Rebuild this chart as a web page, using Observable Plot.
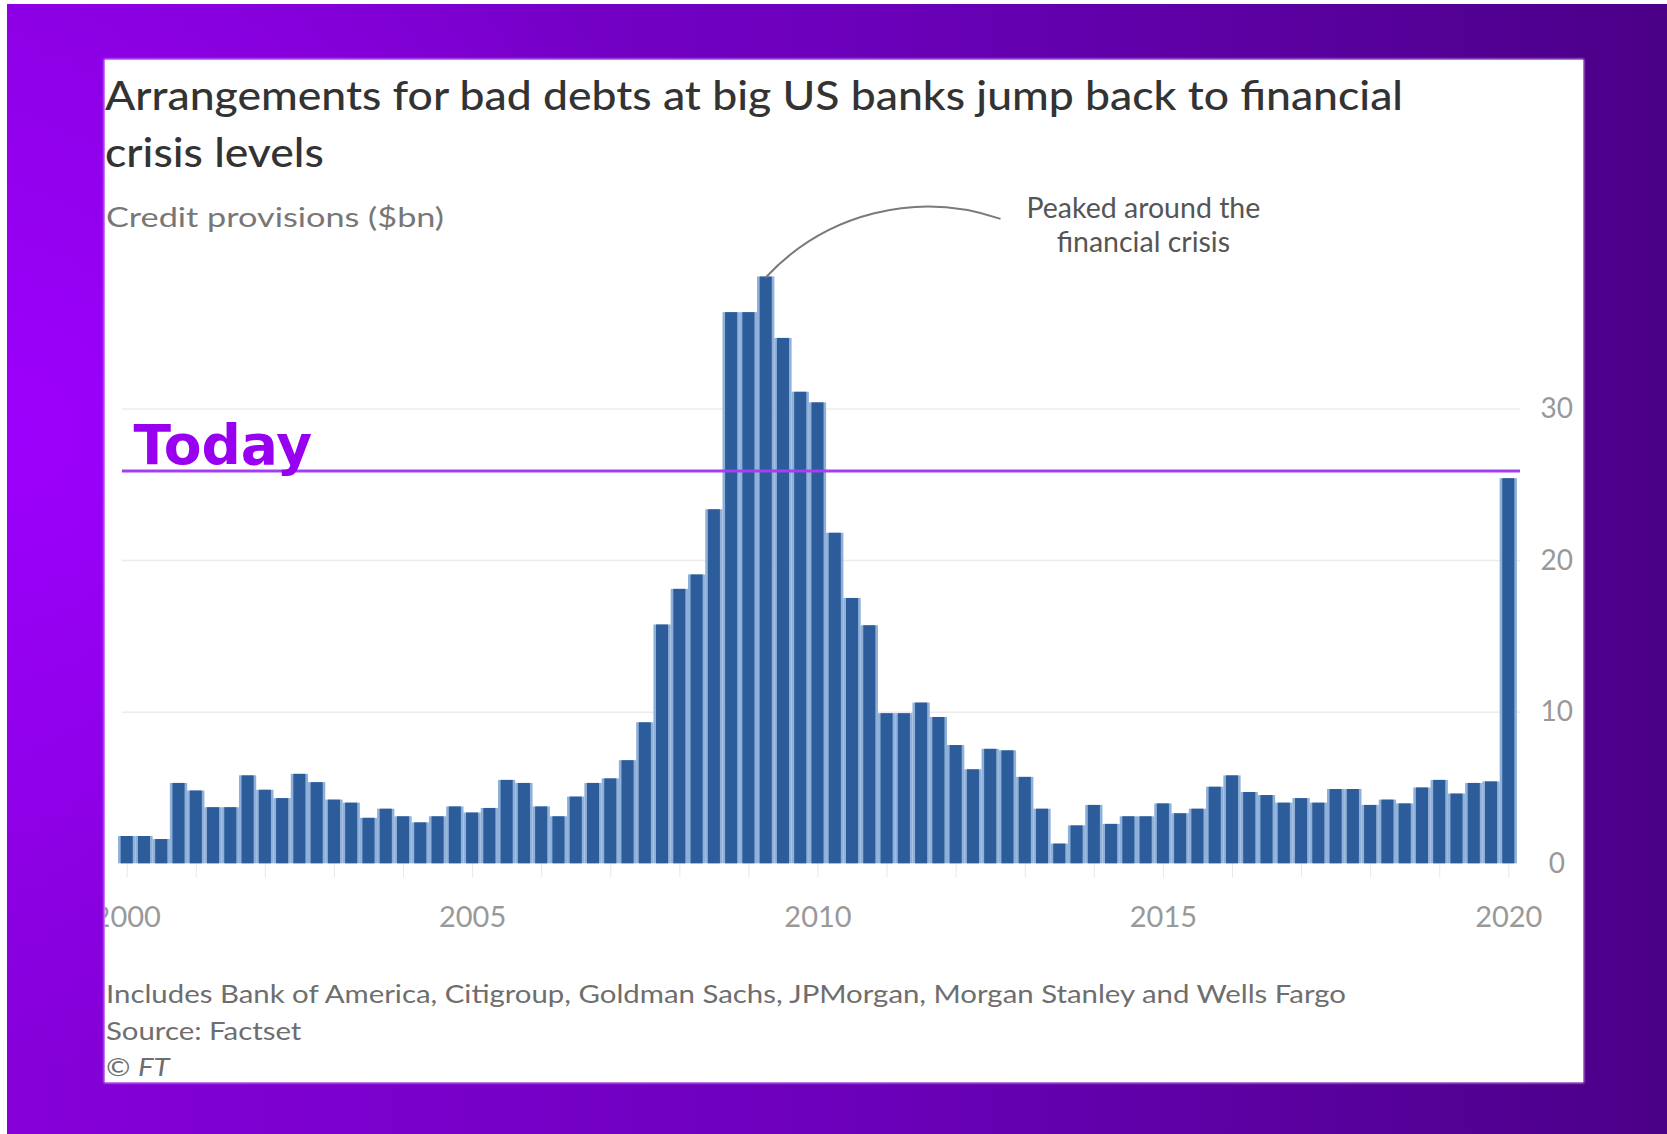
<!DOCTYPE html>
<html><head><meta charset="utf-8">
<script src="https://cdn.jsdelivr.net/npm/d3@7"></script>
<script src="https://cdn.jsdelivr.net/npm/@observablehq/plot@0.6"></script>
<style>
html,body{margin:0;padding:0;width:1667px;height:1134px;overflow:hidden;background:#fff;}
#bg{position:absolute;left:7px;top:4px;width:1660px;height:1130px;
background: radial-gradient(ellipse 760px 640px at 0px 430px, rgba(158,0,255,0.95), rgba(158,0,255,0) 100%), linear-gradient(to right, #8600da 0%, #6c00bc 50%, #4b0088 100%);}
#card{position:absolute;left:105px;top:60px;width:1478px;height:1022px;background:#fff;overflow:hidden;box-shadow:0 0 2px 1px rgba(255,220,255,0.8);}
.t{position:absolute;white-space:nowrap;line-height:1;font-family:Lato, sans-serif;transform-origin:0 0;}
#chart{position:absolute;left:0;top:120px;}
</style></head><body>
<div id="bg"></div>
<div id="card">
 <div class="t" id="title1">Arrangements for bad debts at big US banks jump back to financial</div>
 <div class="t" id="title2">crisis levels</div>
 <div class="t" id="sub">Credit provisions ($bn)</div>
 <div id="chart"></div>
 <div class="t" id="n1">Includes Bank of America, Citigroup, Goldman Sachs, JPMorgan, Morgan Stanley and Wells Fargo</div>
 <div class="t" id="n2">Source: Factset</div>
 <div class="t" id="n3">© <i>FT</i></div>
</div>
<script>
// Quarterly credit provisions ($bn), 2000 Q1 – 2020 Q1
const startYear = 2000;
const values = [
  1.8, 1.8, 1.6, 5.3, 4.8, 3.7, 3.7, 5.8, 4.85, 4.3,
  5.9, 5.35, 4.2, 4.0, 3.0, 3.6, 3.1, 2.7, 3.1, 3.75,
  3.35, 3.65, 5.5, 5.3, 3.75, 3.1, 4.4, 5.3, 5.6, 6.8,
  9.3, 15.75, 18.1, 19.05, 23.35, 36.35, 36.35, 38.7, 34.65, 31.1,
  30.4, 21.8, 17.5, 15.7, 9.9, 9.9, 10.6, 9.65, 7.8, 6.2,
  7.55, 7.45, 5.7, 3.6, 1.3, 2.5, 3.85, 2.6, 3.1, 3.1,
  3.95, 3.3, 3.6, 5.05, 5.8, 4.7, 4.5, 4.0, 4.3, 4.0,
  4.9, 4.9, 3.85, 4.2, 3.95, 5.0, 5.5, 4.6, 5.3, 5.4,
  25.4
];
const todayLevel = 25.9;
const xTickLabels = [2000, 2005, 2010, 2015, 2020];
const yTickLabels = [0, 10, 20, 30];
const yearTicks = d3.range(2000, 2021);
const annotationText = "Peaked around the\nfinancial crisis";

const data = values.map((v, i) => ({t: startYear + i / 4, v}));
const peak = data.reduce((a, b) => (b.v > a.v ? b : a));
const half = 0.125;
const lineStart = data[0].t - 0.07;
const lineEnd = data[data.length - 1].t + 0.17;

const chart = Plot.plot({
  width: 1478, height: 770,
  marginLeft: 21.7, marginRight: 74.7, marginTop: 1, marginBottom: 86.7,
  x: {domain: [2000, 2020], label: null},
  y: {domain: [0, 45], label: null},
  style: {background: "transparent", fontFamily: "Lato, sans-serif", overflow: "visible"},
  marks: [
    Plot.ruleY([10, 20, 30], {x1: lineStart, x2: lineEnd, stroke: "#ececec", strokeWidth: 1.5}),
    Plot.axisX(yearTicks, {tickSize: 14, stroke: "#e8e8e8", fill: "none"}),
    Plot.rect(data, {x1: d => d.t - half, x2: d => d.t + half, y1: 0, y2: "v", fill: "#8eb0d9"}),
    Plot.rect(data, {x1: d => d.t - half, x2: d => d.t + half, y1: 0, y2: "v", fill: "#2c5c99", insetLeft: 2.6, insetRight: 2.6}),
    Plot.ruleY([todayLevel], {x1: lineStart, x2: lineEnd, stroke: "#a33ef2", strokeWidth: 3}),
    Plot.text(["Today"], {x: data[0].t + 0.09, y: 27.5, text: d => d, textAnchor: "start",
      fontFamily: "DejaVu Sans", fontWeight: "bold", fontSize: 55, fill: "#9800f0"}),
    Plot.arrow([peak], {x1: "t", y1: "v", x2: 2012.63, y2: 42.55, bend: 33, headLength: 0,
      stroke: "#7a7a7a", strokeWidth: 2}),
    Plot.text([annotationText], {x: 2014.71, y: 44.2, text: d => d, lineAnchor: "top",
      lineHeight: 1.2, fontSize: 28.5, fill: "#555"}),
    Plot.axisY(yTickLabels, {anchor: "right", tickSize: 0, tickPadding: 0, dx: 48,
      textAnchor: "middle", fill: "#999", fontSize: 28}),
    Plot.axisX(xTickLabels, {tickSize: 0, tickPadding: 43, tickFormat: d => String(d),
      fill: "#999", fontSize: 29})
  ]
});
document.getElementById("chart").appendChild(chart);

function place(id, left, baseline, fs, opts = {}) {
  const el = document.getElementById(id);
  el.style.fontSize = fs + "px";
  if (opts.weight) el.style.fontWeight = opts.weight;
  if (opts.color) el.style.color = opts.color;
  el.style.left = left + "px";
  el.style.top = (baseline - 0.887 * fs) + "px";
  let s = opts.scale;
  if (opts.target) s = opts.target / el.getBoundingClientRect().width;
  if (s) el.style.transform = `scaleX(${s})`;
  return s;
}
const ts = place("title1", 0, 50.6, 41, {weight: 500, color: "#333", target: 1298});
place("title2", 0, 107, 41, {weight: 500, color: "#333", scale: ts});
place("sub", 1, 167.5, 26, {color: "#777", target: 338});
const ns = place("n1", 1, 943, 25, {color: "#6e6e6e", target: 1240});
place("n2", 1, 980, 25, {color: "#6e6e6e", scale: ns});
place("n3", 1, 1016, 25, {color: "#6e6e6e", scale: ns});
</script>
</body></html>
